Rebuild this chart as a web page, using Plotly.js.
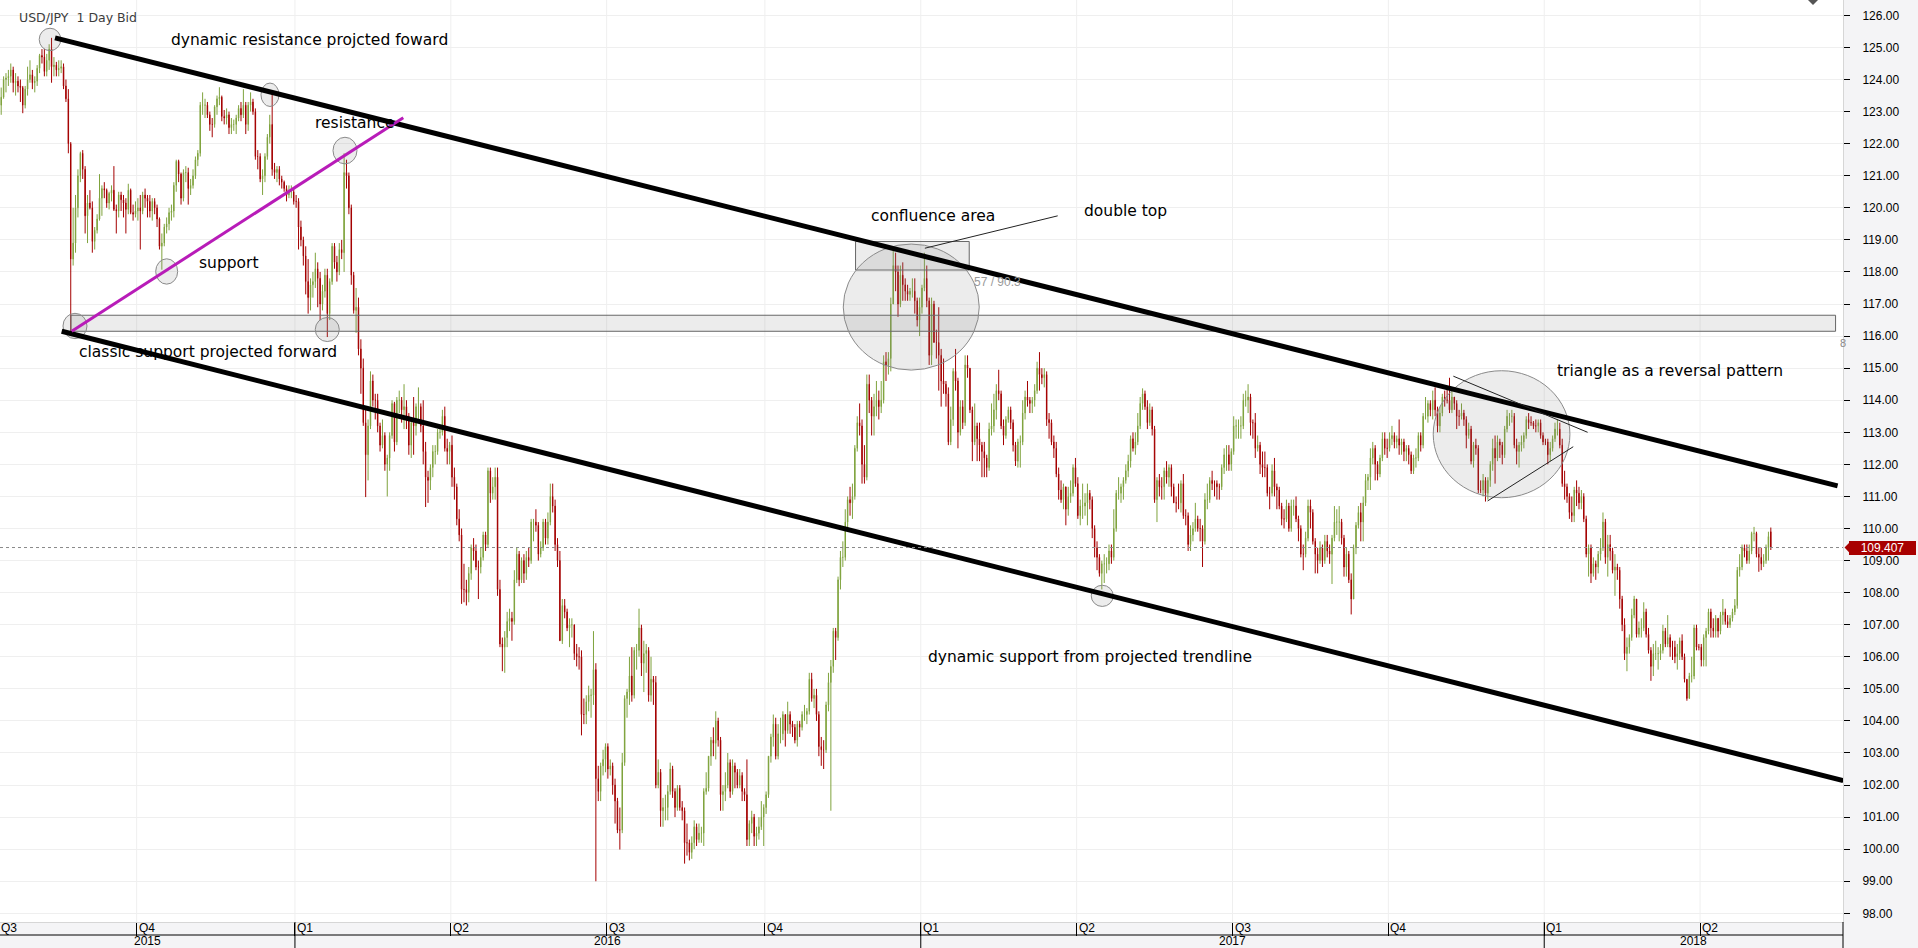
<!DOCTYPE html>
<html><head><meta charset="utf-8">
<script src="https://cdn.plot.ly/plotly-3.0.1.min.js"></script>
<style>html,body{margin:0;padding:0;background:#f4f4f6;overflow:hidden}#chart{width:1918px;height:948px}</style>
</head><body><div id="chart"></div>
<script>
// ---- USD/JPY daily bars [open, high, low, close], one array per month ----
const usdjpy_2015_07 = [[123.20,123.75,122.90,123.45],[123.45,124.10,123.40,124.00],[124.00,124.20,123.60,124.05],[124.05,124.30,123.80,124.10],[124.10,124.50,123.90,124.30],[124.30,124.40,123.60,123.90],[123.90,124.20,123.50,123.95],[123.95,124.10,123.60,123.80],[123.80,124.00,123.30,123.75],[123.75,123.80,122.95,123.20],[123.20,123.80,123.10,123.70],[123.70,124.40,123.50,124.00],[124.00,124.60,123.90,124.15],[124.15,124.30,123.70,123.90]];
const usdjpy_2015_08 = [[123.90,124.10,123.60,123.95],[123.95,124.45,123.80,124.35],[124.35,124.80,124.20,124.75],[124.75,124.95,124.50,124.70],[124.70,124.95,124.10,124.25],[124.25,124.80,124.10,124.60],[124.60,125.10,124.30,124.95],[124.95,125.30,123.90,124.40],[124.40,124.70,124.10,124.45],[124.45,124.55,124.10,124.30],[124.30,124.60,124.10,124.35],[124.35,124.60,124.20,124.40],[124.40,124.50,123.70,123.80],[123.80,124.00,123.30,123.40],[123.40,123.70,121.70,122.00],[122.00,122.05,116.15,118.40],[118.40,120.00,118.20,118.90],[118.90,120.40,118.60,120.00],[120.00,121.20,119.70,121.00],[121.00,121.75,120.80,121.70],[121.70,121.80,120.90,121.20]];
const usdjpy_2015_09 = [[121.20,121.30,119.20,119.75],[119.75,120.40,118.90,120.15],[120.15,120.55,119.95,120.00],[120.00,120.20,118.60,118.95],[118.95,119.40,118.70,119.30],[119.30,119.80,119.20,119.65],[119.65,121.05,119.60,120.30],[120.30,120.70,119.75,120.60],[120.60,120.80,120.30,120.55],[120.55,120.60,120.00,120.15],[120.15,120.50,119.95,120.45],[120.45,120.70,120.20,120.55],[120.55,121.30,119.90,119.95],[119.95,120.10,119.20,119.90],[119.90,120.50,119.70,120.40],[120.40,120.50,119.90,120.25],[120.25,120.40,119.70,120.15],[120.15,120.30,119.20,119.95],[119.95,120.75,119.80,120.55],[120.55,120.60,119.80,119.85],[119.85,120.10,119.60,119.80],[119.80,120.20,119.70,119.90]];
const usdjpy_2015_10 = [[119.90,120.30,119.60,120.00],[120.00,120.40,118.70,119.90],[119.90,120.50,119.80,120.40],[120.40,120.60,120.00,120.30],[120.30,120.40,119.70,120.20],[120.20,120.40,119.70,119.90],[119.90,120.30,119.60,120.20],[120.20,120.30,119.80,120.00],[120.00,120.10,119.40,119.65],[119.65,119.70,118.70,118.80],[118.80,119.20,118.07,118.90],[118.90,119.50,118.80,119.40],[119.40,119.70,119.20,119.50],[119.50,120.00,119.30,119.85],[119.85,120.10,119.60,119.90],[119.90,120.80,119.70,120.70],[120.70,121.50,120.50,121.45],[121.45,121.50,120.80,121.05],[121.05,121.10,120.10,120.30],[120.30,121.20,120.20,121.10],[121.10,121.30,120.80,121.10],[121.10,121.25,120.10,120.60]];
const usdjpy_2015_11 = [[120.60,120.90,120.40,120.70],[120.70,121.20,120.60,121.00],[121.00,121.60,120.90,121.50],[121.50,121.80,121.30,121.70],[121.70,123.30,121.60,123.20],[123.20,123.60,122.90,123.20],[123.20,123.40,122.80,123.20],[123.20,123.30,122.80,122.90],[122.90,123.00,122.40,122.60],[122.60,122.80,122.20,122.60],[122.60,123.20,122.50,123.15],[123.15,123.50,122.90,123.40],[123.40,123.76,123.20,123.45],[123.45,123.50,122.70,122.85],[122.85,123.05,122.60,122.80],[122.80,123.10,122.60,122.90],[122.90,123.00,122.30,122.50],[122.50,122.80,122.30,122.60],[122.60,122.75,122.40,122.60],[122.60,122.90,122.30,122.80],[122.80,123.20,122.70,123.10]];
const usdjpy_2015_12 = [[123.10,123.30,122.70,122.90],[122.90,123.70,122.80,123.20],[123.20,123.30,122.30,122.60],[122.60,123.30,122.40,123.20],[123.20,123.60,123.00,123.30],[123.30,123.40,122.90,123.00],[123.00,123.10,121.50,121.60],[121.60,121.80,121.20,121.60],[121.60,121.70,120.80,120.90],[120.90,121.20,120.40,121.00],[121.00,121.70,120.80,121.60],[121.60,122.30,121.50,122.20],[122.20,122.90,122.00,122.60],[122.60,123.60,121.00,121.20],[121.20,121.40,120.90,121.10],[121.10,121.30,120.80,121.20],[121.20,121.30,120.70,120.90],[120.90,121.00,120.60,120.80],[120.80,120.85,120.50,120.60],[120.60,120.70,120.20,120.40],[120.40,120.70,120.30,120.50],[120.50,120.70,120.30,120.50],[120.50,120.60,120.10,120.20]];
const usdjpy_2016_01 = [[120.20,120.40,120.00,120.20],[120.20,120.30,118.70,119.40],[119.40,119.60,118.80,119.00],[119.00,119.10,118.20,118.50],[118.50,118.80,117.30,117.70],[117.70,118.40,116.70,117.20],[117.20,117.80,116.80,117.60],[117.60,118.00,117.20,117.70],[117.70,118.60,117.50,118.10],[118.10,118.30,116.90,117.80],[117.80,118.00,116.50,117.00],[117.00,117.60,116.80,117.40],[117.40,118.10,117.20,117.90],[117.90,118.10,115.97,116.70],[116.70,117.80,116.50,117.70],[117.70,118.90,117.60,118.80],[118.80,118.90,118.10,118.30],[118.30,118.50,117.70,118.00],[118.00,118.90,117.90,118.70],[118.70,119.00,118.40,118.60],[118.60,121.70,118.00,121.10]];
const usdjpy_2016_02 = [[121.10,121.50,120.60,121.00],[121.00,121.10,119.80,120.00],[120.00,120.10,117.60,117.90],[117.90,118.00,116.70,116.80],[116.80,117.50,116.10,116.90],[116.90,117.20,115.40,115.60],[115.60,115.90,114.20,115.00],[115.00,115.30,113.20,113.30],[113.30,113.80,110.98,112.30],[112.30,113.40,111.50,113.20],[113.20,114.90,113.10,114.60],[114.60,114.80,113.80,114.00],[114.00,114.20,113.40,114.00],[114.00,114.20,113.00,113.20],[113.20,113.30,112.40,112.60],[112.60,113.40,112.50,112.90],[112.90,113.00,111.80,112.00],[112.00,112.30,111.00,112.20],[112.20,113.00,111.80,112.90],[112.90,114.00,112.80,113.90],[113.90,113.95,112.40,112.70]];
const usdjpy_2016_03 = [[112.70,114.10,112.60,114.00],[114.00,114.30,113.60,114.00],[114.00,114.10,113.30,113.70],[113.70,114.50,113.10,113.80],[113.80,114.00,113.10,113.50],[113.50,113.60,112.30,112.60],[112.60,113.40,112.20,113.30],[113.30,114.10,112.30,113.20],[113.20,113.90,112.90,113.80],[113.80,114.40,113.40,113.80],[113.80,113.90,113.00,113.20],[113.20,114.00,112.00,112.40],[112.40,112.70,110.67,111.60],[111.60,111.80,110.80,111.50],[111.50,112.00,111.20,111.90],[111.90,112.60,111.60,112.40],[112.40,112.60,112.00,112.40],[112.40,113.10,112.30,113.00],[113.00,113.20,112.80,113.00],[113.00,113.70,112.90,113.50],[113.50,113.80,112.40,112.50],[112.50,112.80,112.00,112.40],[112.40,112.70,112.00,112.60]];
const usdjpy_2016_04 = [[112.60,112.90,111.30,111.60],[111.60,111.90,110.90,111.30],[111.30,111.40,110.10,110.30],[110.30,110.60,109.60,109.80],[109.80,110.00,107.65,108.10],[108.10,108.90,107.70,108.10],[108.10,108.40,107.60,108.00],[108.00,108.80,107.70,108.60],[108.60,109.50,108.40,109.40],[109.40,109.70,109.00,109.30],[109.30,109.50,108.70,108.80],[108.80,109.00,107.80,108.80],[108.80,109.40,108.60,109.10],[109.10,109.90,109.00,109.80],[109.80,109.90,109.30,109.50],[109.50,111.90,109.40,111.80],[111.80,111.90,110.80,111.10],[111.10,111.60,110.90,111.30],[111.30,111.90,110.90,111.60],[111.60,111.90,107.90,108.10],[108.10,108.40,106.30,106.40]];
const usdjpy_2016_05 = [[106.40,106.60,105.55,106.30],[106.30,106.80,105.50,106.60],[106.60,107.40,106.30,107.10],[107.10,107.50,106.80,107.20],[107.20,107.40,106.50,107.10],[107.10,108.70,107.00,108.40],[108.40,109.40,108.30,109.20],[109.20,109.30,108.20,108.40],[108.40,109.10,108.30,109.00],[109.00,109.20,108.30,108.60],[108.60,109.30,108.40,109.10],[109.10,109.40,108.80,109.00],[109.00,110.30,108.90,110.20],[110.20,110.30,109.60,110.20],[110.20,110.60,109.90,110.10],[110.10,110.20,109.00,109.20],[109.20,109.60,109.10,109.40],[109.40,110.30,109.30,110.20],[110.20,110.30,109.50,109.70],[109.70,110.50,109.50,110.20],[110.20,111.40,110.10,111.00],[111.00,111.40,110.50,110.70]];
const usdjpy_2016_06 = [[110.70,110.90,109.30,109.50],[109.50,109.70,108.80,109.00],[109.00,109.30,106.50,106.50],[106.50,107.80,106.40,107.60],[107.60,107.80,107.20,107.40],[107.40,107.50,106.80,106.90],[106.90,107.20,106.30,107.00],[107.00,107.20,106.60,107.00],[107.00,107.00,105.90,106.10],[106.10,106.40,105.70,106.00],[106.00,106.30,105.60,106.00],[106.00,106.20,103.55,104.20],[104.20,104.70,103.90,104.20],[104.20,104.80,103.90,104.60],[104.60,105.10,104.30,104.80],[104.80,105.00,104.10,104.80],[104.80,106.80,104.50,105.60],[105.60,105.80,99.00,102.20],[102.20,102.60,101.50,101.80],[101.80,102.70,101.50,102.60],[102.60,103.10,102.30,102.80],[102.80,103.30,102.40,103.20]];
const usdjpy_2016_07 = [[103.20,103.30,102.20,102.50],[102.50,102.80,102.30,102.60],[102.60,102.70,101.70,102.00],[102.00,102.20,100.80,101.50],[101.50,101.60,100.50,100.60],[100.60,101.30,99.99,100.60],[100.60,103.00,100.50,102.70],[102.70,104.80,102.60,104.70],[104.70,105.00,104.10,104.90],[104.90,106.00,104.50,105.40],[105.40,106.30,104.60,104.80],[104.80,106.30,104.70,106.20],[106.20,106.40,105.60,106.20],[106.20,107.50,106.00,106.90],[106.90,107.00,105.40,105.80],[105.80,106.50,104.90,106.10],[106.10,106.40,105.50,106.20],[106.20,106.30,104.60,104.80],[104.80,106.00,104.60,105.30],[105.30,105.40,104.50,105.20],[105.20,105.40,101.90,102.00]];
const usdjpy_2016_08 = [[102.00,102.80,101.90,102.40],[102.40,102.50,100.70,101.20],[101.20,101.60,100.70,101.30],[101.30,101.70,100.90,101.30],[101.30,102.00,100.90,101.80],[101.80,102.70,101.70,102.50],[102.50,102.60,101.60,101.80],[101.80,101.90,101.00,101.30],[101.30,102.00,101.20,101.90],[101.90,102.00,101.20,101.30],[101.30,101.50,100.90,101.20],[101.20,101.30,99.55,100.20],[100.20,100.80,99.80,100.20],[100.20,100.30,99.65,99.90],[99.90,100.40,99.70,100.20],[100.20,100.90,100.00,100.70],[100.70,100.80,100.10,100.30],[100.30,100.80,100.20,100.50],[100.50,100.70,100.20,100.50],[100.50,101.90,100.10,101.80],[101.80,102.40,101.70,101.90],[101.90,102.90,101.80,102.90],[102.90,103.50,102.60,103.40]];
const usdjpy_2016_09 = [[103.40,103.80,102.90,103.30],[103.30,104.30,102.80,104.00],[104.00,104.10,103.20,103.40],[103.40,103.50,101.20,101.70],[101.70,102.00,101.20,101.80],[101.80,102.40,101.50,102.00],[102.00,103.00,101.90,102.70],[102.70,102.80,101.60,101.80],[101.80,102.80,101.70,102.60],[102.60,102.70,101.90,102.40],[102.40,102.50,101.90,102.00],[102.00,102.50,101.90,102.30],[102.30,102.40,101.50,101.80],[101.80,101.90,101.50,101.70],[101.70,102.80,100.10,100.30],[100.30,100.90,100.10,100.80],[100.80,101.20,100.50,101.00],[101.00,101.10,100.10,100.40],[100.40,100.70,100.10,100.50],[100.50,101.00,100.30,100.70],[100.70,101.50,100.60,101.00],[101.00,101.40,100.10,101.30]];
const usdjpy_2016_10 = [[101.30,101.80,101.10,101.70],[101.70,102.90,101.60,102.90],[102.90,103.60,102.70,103.50],[103.50,104.20,103.20,103.90],[103.90,104.10,102.80,102.90],[102.90,103.90,102.80,103.60],[103.60,104.10,103.30,103.60],[103.60,104.30,103.40,104.20],[104.20,104.20,103.20,103.70],[103.70,104.60,103.60,104.20],[104.20,104.30,103.60,103.90],[103.90,104.00,103.50,103.80],[103.80,103.90,103.30,103.40],[103.40,104.00,103.20,103.90],[103.90,104.00,103.50,103.80],[103.80,104.30,103.70,104.20],[104.20,104.50,104.00,104.20],[104.20,104.40,103.90,104.30],[104.30,105.50,104.20,105.30],[105.30,105.50,104.60,104.70],[104.70,105.00,104.40,104.80]];
const usdjpy_2016_11 = [[104.80,105.00,104.00,104.20],[104.20,104.30,102.90,103.20],[103.20,103.50,102.60,103.10],[103.10,103.40,102.50,103.10],[103.10,104.60,103.00,104.50],[104.50,105.50,104.30,105.20],[105.20,105.90,101.20,105.70],[105.70,106.90,105.50,106.80],[106.80,106.90,105.90,106.60],[106.60,108.50,106.50,108.40],[108.40,109.30,108.10,109.10],[109.10,109.60,108.80,109.10],[109.10,110.60,109.00,110.20],[110.20,111.00,110.00,110.90],[110.90,111.30,110.40,110.80],[110.80,111.40,110.30,111.00],[111.00,112.60,110.90,112.50],[112.50,113.50,112.40,113.30],[113.30,113.90,112.90,113.20],[113.20,113.40,111.40,112.00],[112.00,112.60,111.40,111.60],[111.60,114.80,111.50,114.50]];
const usdjpy_2016_12 = [[114.50,114.80,113.60,114.00],[114.00,114.10,112.90,113.50],[113.50,114.20,112.90,113.80],[113.80,114.60,113.50,114.00],[114.00,114.30,113.40,113.80],[113.80,114.60,113.60,114.00],[114.00,115.40,113.90,115.20],[115.20,115.50,114.60,115.10],[115.10,115.50,114.80,115.30],[115.30,117.20,114.90,117.00],[117.00,118.66,117.00,118.20],[118.20,118.60,117.40,118.00],[118.00,118.20,116.60,117.00],[117.00,118.20,116.90,117.90],[117.90,118.30,117.10,117.60],[117.60,117.80,117.10,117.40],[117.40,117.60,117.10,117.30],[117.30,117.50,117.10,117.40],[117.40,117.80,117.20,117.40],[117.40,117.80,116.70,117.10],[117.10,117.20,116.30,116.50],[116.50,117.20,116.00,116.90]];
const usdjpy_2017_01 = [[116.90,117.60,116.70,117.50],[117.50,118.60,117.40,117.80],[117.80,118.20,116.90,117.10],[117.10,117.20,115.10,115.40],[115.40,117.20,115.10,117.00],[117.00,117.10,115.80,115.80],[115.80,116.20,115.30,115.80],[115.80,116.90,114.30,115.40],[115.40,115.60,113.80,114.60],[114.60,115.30,114.20,114.50],[114.50,114.60,113.80,114.20],[114.20,114.40,112.60,112.70],[112.70,113.80,112.60,113.40],[113.40,115.00,113.20,114.90],[114.90,115.60,114.30,114.60],[114.60,114.70,112.50,113.00],[113.00,114.00,112.90,113.80],[113.80,114.00,113.10,113.30],[113.30,115.40,113.20,115.10],[115.10,115.40,114.70,115.00],[115.00,115.00,113.60,113.70],[113.70,113.80,112.10,112.70]];
const usdjpy_2017_02 = [[112.70,113.90,112.60,113.20],[113.20,113.30,112.10,112.80],[112.80,113.30,112.10,112.60],[112.60,112.70,111.60,112.40],[112.40,112.70,111.60,112.20],[112.20,112.30,111.60,111.90],[111.90,113.30,111.80,113.10],[113.10,113.90,112.90,113.20],[113.20,114.20,113.00,113.70],[113.70,114.50,113.40,114.30],[114.30,114.95,114.00,114.20],[114.20,114.30,113.10,113.20],[113.20,113.40,112.60,112.90],[112.90,113.50,112.80,113.40],[113.40,113.80,113.30,113.70],[113.70,113.80,113.10,113.30],[113.30,113.40,112.40,112.60],[112.60,112.70,111.95,112.10],[112.10,112.80,111.90,112.70],[112.70,112.90,111.90,112.70]];
const usdjpy_2017_03 = [[112.70,114.00,112.60,113.60],[113.60,114.30,113.40,114.10],[114.10,114.60,113.80,114.00],[114.00,114.10,113.60,113.90],[113.90,114.10,113.60,114.00],[114.00,114.50,113.80,114.30],[114.30,115.20,114.20,115.00],[115.00,115.50,114.30,114.80],[114.80,115.00,114.50,114.70],[114.70,115.00,114.40,114.80],[114.80,114.90,113.20,113.40],[113.40,113.60,112.80,113.30],[113.30,113.40,112.60,112.70],[112.70,112.90,112.20,112.50],[112.50,112.70,111.60,111.70],[111.70,111.90,110.90,111.20],[111.20,111.50,110.80,110.90],[110.90,111.40,110.60,111.30],[111.30,111.30,110.10,110.60],[110.60,111.30,110.40,111.00],[111.00,111.50,110.80,111.10],[111.10,112.00,111.00,111.90],[111.90,112.20,111.30,111.40]];
const usdjpy_2017_04 = [[111.40,111.60,110.30,110.40],[110.40,110.90,110.10,110.70],[110.70,111.40,110.30,110.70],[110.70,111.10,110.40,110.80],[110.80,111.40,110.10,111.10],[111.10,111.20,110.60,110.90],[110.90,111.00,109.70,110.00],[110.00,110.10,109.10,109.40],[109.40,109.60,108.70,109.10],[109.10,109.20,108.50,108.60],[108.60,109.00,108.10,108.90],[108.90,109.20,108.30,108.90],[108.90,109.10,108.60,108.90],[108.90,109.50,108.70,109.30],[109.30,109.50,108.90,109.10],[109.10,110.60,109.00,110.00],[110.00,111.20,109.90,111.10],[111.10,111.60,110.90,111.10],[111.10,111.40,110.80,111.30],[111.30,111.60,110.90,111.50]];
const usdjpy_2017_05 = [[111.50,112.00,111.40,111.80],[111.80,112.30,111.60,112.10],[112.10,112.90,111.90,112.80],[112.80,113.00,112.40,112.50],[112.50,113.00,112.30,112.70],[112.70,113.60,112.60,113.20],[113.20,114.10,113.10,113.90],[113.90,114.37,113.70,114.20],[114.20,114.30,113.70,113.80],[113.80,114.00,113.10,113.30],[113.30,113.90,113.20,113.70],[113.70,113.80,112.90,113.10],[113.10,113.20,110.80,110.90],[110.90,111.60,110.20,111.50],[111.50,111.70,111.00,111.30],[111.30,111.60,110.90,111.30],[111.30,111.90,110.90,111.80],[111.80,112.10,111.40,111.60],[111.60,112.00,111.30,111.90],[111.90,112.00,111.00,111.30],[111.30,111.40,110.80,110.80],[110.80,111.00,110.50,110.80],[110.80,111.40,110.60,110.80]];
const usdjpy_2017_06 = [[110.80,111.50,110.50,111.40],[111.40,111.70,110.30,110.40],[110.40,110.60,110.10,110.40],[110.40,110.50,109.30,109.50],[109.50,110.10,109.30,109.80],[109.80,110.20,109.60,110.00],[110.00,110.80,109.90,110.30],[110.30,110.40,109.90,110.00],[110.00,110.30,109.60,110.00],[110.00,110.10,108.80,109.60],[109.60,111.10,109.50,110.90],[110.90,111.40,110.60,110.90],[110.90,111.60,110.80,111.50],[111.50,111.80,111.20,111.40],[111.40,111.50,111.00,111.40],[111.40,111.50,110.90,111.30],[111.30,111.40,110.90,111.30],[111.30,112.00,111.20,111.90],[111.90,112.50,111.70,112.30],[112.30,112.60,111.80,112.30],[112.30,112.60,111.80,112.00],[112.00,112.50,111.80,112.40]];
const usdjpy_2017_07 = [[112.40,113.50,112.30,113.20],[113.20,113.40,112.80,113.20],[113.20,113.40,112.80,113.20],[113.20,113.50,112.80,113.20],[113.20,114.20,113.10,114.00],[114.00,114.30,113.80,114.00],[114.00,114.50,113.60,114.10],[114.10,114.20,112.90,113.30],[113.30,113.40,112.80,113.30],[113.30,113.60,112.20,112.50],[112.50,112.90,112.40,112.60],[112.60,112.70,111.70,112.00],[112.00,112.40,111.60,111.90],[111.90,112.40,111.60,111.90],[111.90,112.00,111.00,111.10],[111.10,111.30,110.60,111.10],[111.10,112.00,111.00,111.80],[111.80,112.20,111.00,111.30],[111.30,111.40,110.60,111.20],[111.20,111.30,110.60,110.70],[110.70,110.80,110.10,110.30]];
const usdjpy_2017_08 = [[110.30,110.60,110.00,110.30],[110.30,110.90,110.20,110.70],[110.70,110.80,109.90,110.00],[110.00,110.90,109.90,110.70],[110.70,110.90,110.40,110.70],[110.70,111.00,110.20,110.30],[110.30,110.40,109.60,110.00],[110.00,110.10,109.10,109.20],[109.20,109.50,108.70,109.20],[109.20,109.90,109.10,109.70],[109.70,110.90,109.60,110.70],[110.70,110.90,110.00,110.50],[110.50,110.60,109.50,109.60],[109.60,109.70,108.60,109.20],[109.20,109.40,108.60,109.00],[109.00,109.60,108.90,109.40],[109.40,109.50,108.80,109.00],[109.00,109.80,108.90,109.60],[109.60,109.80,109.10,109.30],[109.30,109.50,108.90,109.20],[109.20,109.80,108.27,109.70],[109.70,110.70,109.60,110.20],[110.20,110.60,109.80,110.20]];
const usdjpy_2017_09 = [[110.20,110.70,109.60,110.20],[110.20,110.30,109.50,109.70],[109.70,109.80,108.50,108.80],[108.80,109.40,108.50,109.20],[109.20,109.30,108.30,108.40],[108.40,108.60,107.32,107.80],[107.80,109.50,107.80,109.40],[109.40,110.20,109.20,110.10],[110.10,110.70,110.00,110.50],[110.50,110.80,109.60,110.20],[110.20,111.00,109.60,110.80],[110.80,111.70,110.70,111.50],[111.50,111.70,111.20,111.60],[111.60,112.50,111.20,112.20],[112.20,112.70,112.00,112.50],[112.50,112.60,111.50,112.00],[112.00,112.10,111.50,111.70],[111.70,112.30,111.60,112.20],[112.20,113.00,112.10,112.80],[112.80,113.00,112.30,112.50],[112.50,112.80,112.20,112.50]];
const usdjpy_2017_10 = [[112.50,113.00,112.40,112.80],[112.80,113.20,112.60,112.90],[112.90,113.00,112.50,112.70],[112.70,112.90,112.50,112.80],[112.80,113.40,112.30,112.60],[112.60,112.80,112.30,112.70],[112.70,112.80,112.10,112.40],[112.40,112.60,112.10,112.50],[112.50,112.60,112.00,112.30],[112.30,112.40,111.70,111.80],[111.80,112.30,111.70,112.20],[112.20,112.50,111.90,112.20],[112.20,113.00,112.10,112.90],[112.90,113.00,112.40,112.60],[112.60,113.60,112.50,113.50],[113.50,114.10,113.40,113.50],[113.50,114.00,113.30,113.90],[113.90,114.00,113.50,113.70],[113.70,114.30,113.40,114.00],[114.00,114.40,113.50,113.70],[113.70,113.80,113.00,113.20],[113.20,113.80,113.00,113.60]];
const usdjpy_2017_11 = [[113.60,114.20,113.50,114.10],[114.10,114.30,113.80,114.00],[114.00,114.40,113.90,114.00],[114.00,114.70,113.60,113.70],[113.70,114.30,113.60,114.10],[114.10,114.10,113.70,113.90],[113.90,114.00,113.10,113.50],[113.50,113.70,113.20,113.50],[113.50,113.90,113.40,113.60],[113.60,113.70,113.20,113.40],[113.40,113.50,112.50,112.90],[112.90,113.30,112.80,113.10],[113.10,113.20,112.00,112.10],[112.10,112.70,111.90,112.60],[112.60,112.80,112.30,112.50],[112.50,112.60,111.10,111.20],[111.20,111.50,111.10,111.20],[111.20,111.70,111.00,111.50],[111.50,111.60,110.84,111.10],[111.10,111.60,110.90,111.50],[111.50,112.10,111.30,112.00],[112.00,112.80,111.80,112.50]];
const usdjpy_2017_12 = [[112.50,112.90,111.40,112.20],[112.20,112.90,112.10,112.70],[112.70,112.80,112.20,112.60],[112.60,112.70,112.00,112.30],[112.30,113.20,112.20,113.10],[113.10,113.70,113.00,113.50],[113.50,113.60,113.20,113.50],[113.50,113.70,113.30,113.50],[113.50,113.60,112.50,112.60],[112.60,112.80,112.00,112.40],[112.40,112.70,111.90,112.60],[112.60,112.90,112.40,112.70],[112.70,113.00,112.50,112.90],[112.90,113.50,112.80,113.40],[113.40,113.60,113.10,113.30],[113.30,113.50,113.20,113.30],[113.30,113.35,113.10,113.20],[113.20,113.40,113.00,113.20],[113.20,113.40,113.00,113.30],[113.30,113.40,112.80,112.90],[112.90,113.00,112.60,112.70]];
const usdjpy_2018_01 = [[112.70,112.80,112.60,112.70],[112.70,112.80,112.00,112.30],[112.30,112.70,112.10,112.50],[112.50,112.90,112.40,112.80],[112.80,113.30,112.70,113.10],[113.10,113.40,112.90,113.10],[113.10,113.30,112.50,112.60],[112.60,112.80,111.30,111.40],[111.40,111.80,110.90,111.30],[111.30,111.40,110.80,111.00],[111.00,111.10,110.30,110.50],[110.50,111.00,110.20,110.40],[110.40,111.30,110.20,111.20],[111.20,111.50,110.70,111.10],[111.10,111.30,110.60,110.80],[110.80,111.20,110.60,111.00],[111.00,111.10,110.20,110.30],[110.30,110.40,109.10,109.20],[109.20,109.50,108.50,109.40],[109.40,109.50,108.30,108.60],[108.60,109.10,108.50,108.90],[108.90,109.00,108.40,108.80],[108.80,109.30,108.60,109.20]];
const usdjpy_2018_02 = [[109.20,109.70,109.00,109.40],[109.40,110.50,109.30,110.20],[110.20,110.30,108.90,109.10],[109.10,109.80,108.50,109.50],[109.50,109.80,109.00,109.30],[109.30,109.40,108.60,108.70],[108.70,109.20,107.90,108.80],[108.80,108.90,108.40,108.70],[108.70,108.80,107.50,107.80],[107.80,107.90,106.80,107.00],[107.00,107.20,105.90,106.10],[106.10,106.60,105.55,106.30],[106.30,106.70,106.10,106.60],[106.60,107.50,106.50,107.30],[107.30,107.90,107.20,107.80],[107.80,107.80,106.60,106.70],[106.70,107.10,106.60,106.90],[106.90,107.20,106.60,106.90],[106.90,107.70,106.80,107.40],[107.40,107.50,106.60,106.70]];
const usdjpy_2018_03 = [[106.70,106.90,106.10,106.20],[106.20,106.30,105.25,105.70],[105.70,106.40,105.40,106.10],[106.10,106.50,105.90,106.10],[106.10,106.30,105.60,106.10],[106.10,106.40,105.90,106.20],[106.20,107.00,106.10,106.80],[106.80,106.90,106.30,106.40],[106.40,107.30,106.30,106.60],[106.60,106.70,106.00,106.30],[106.30,106.50,105.90,106.30],[106.30,106.50,105.80,106.00],[106.00,106.40,105.60,106.10],[106.10,106.60,105.90,106.50],[106.50,106.70,105.90,106.00],[106.00,106.10,105.20,105.30],[105.30,105.30,104.63,104.70],[104.70,105.50,104.70,105.40],[105.40,106.00,105.20,105.40],[105.40,107.00,105.30,106.90],[106.90,107.00,106.20,106.30],[106.30,106.40,106.20,106.30]];
const usdjpy_2018_04 = [[106.30,106.40,105.70,105.90],[105.90,106.70,105.70,106.60],[106.60,106.90,105.70,106.80],[106.80,107.50,106.70,107.40],[107.40,107.50,106.60,106.90],[106.90,107.20,106.60,106.80],[106.80,107.30,106.60,107.20],[107.20,107.20,106.60,106.80],[106.80,107.40,106.70,107.30],[107.30,107.80,107.00,107.40],[107.40,107.50,107.00,107.10],[107.10,107.30,106.90,107.00],[107.00,107.30,106.90,107.20],[107.20,107.50,107.10,107.40],[107.40,107.80,107.30,107.60],[107.60,108.80,107.50,108.70],[108.70,109.20,108.50,108.80],[108.80,109.50,108.70,109.40],[109.40,109.50,109.10,109.30],[109.30,109.50,108.90,109.00],[109.00,109.50,108.90,109.30]];
const usdjpy_2018_05 = [[109.30,109.90,109.20,109.85],[109.85,110.05,109.60,109.85],[109.85,109.90,109.10,109.20],[109.20,109.40,108.65,109.10],[109.10,109.40,108.70,108.90],[108.90,109.20,108.80,109.00],[109.00,109.50,108.90,109.40],[109.40,109.90,109.00,109.75],[109.90,110.03,109.33,109.407]];

// first trading day of each month block
const months = [
  ['2015-07-14', usdjpy_2015_07], ['2015-08-01', usdjpy_2015_08], ['2015-09-01', usdjpy_2015_09],
  ['2015-10-01', usdjpy_2015_10], ['2015-11-01', usdjpy_2015_11], ['2015-12-01', usdjpy_2015_12],
  ['2016-01-01', usdjpy_2016_01], ['2016-02-01', usdjpy_2016_02], ['2016-03-01', usdjpy_2016_03],
  ['2016-04-01', usdjpy_2016_04], ['2016-05-01', usdjpy_2016_05], ['2016-06-01', usdjpy_2016_06],
  ['2016-07-01', usdjpy_2016_07], ['2016-08-01', usdjpy_2016_08], ['2016-09-01', usdjpy_2016_09],
  ['2016-10-01', usdjpy_2016_10], ['2016-11-01', usdjpy_2016_11], ['2016-12-01', usdjpy_2016_12],
  ['2017-01-01', usdjpy_2017_01], ['2017-02-01', usdjpy_2017_02], ['2017-03-01', usdjpy_2017_03],
  ['2017-04-01', usdjpy_2017_04], ['2017-05-01', usdjpy_2017_05], ['2017-06-01', usdjpy_2017_06],
  ['2017-07-01', usdjpy_2017_07], ['2017-08-01', usdjpy_2017_08], ['2017-09-01', usdjpy_2017_09],
  ['2017-10-01', usdjpy_2017_10], ['2017-11-01', usdjpy_2017_11], ['2017-12-01', usdjpy_2017_12],
  ['2018-01-01', usdjpy_2018_01], ['2018-02-01', usdjpy_2018_02], ['2018-03-01', usdjpy_2018_03],
  ['2018-04-01', usdjpy_2018_04], ['2018-05-01', usdjpy_2018_05]
];
const lastPrice = 109.407;
const chartTitle = 'USD/JPY\u00a0 1 Day Bid';

// x axis labels
const quarterStarts = ['2015-10-01','2016-01-01','2016-04-01','2016-07-01','2016-10-03','2017-01-02','2017-04-03','2017-07-03','2017-10-02','2018-01-01','2018-04-02'];
const quarterNames  = ['Q4','Q1','Q2','Q3','Q4','Q1','Q2','Q3','Q4','Q1','Q2'];
const firstQuarterName = 'Q3';
const yearStarts = ['2016-01-01','2017-01-02','2018-01-01'];
const yearNames  = ['2015','2016','2017','2018'];

// analyst drawings: points as [trading-day offset from 2015-07-14, price]
const resistanceLine = [[22.94,125.30],[766.35,111.33]];
const supportLine    = [[25.73,116.15],[768.68,102.14]];
const risingLine     = [[29.90,116.15],[168.18,122.81]];
const supportBand    = [[29.6,116.15],[765.5,116.65]];
const confluenceBox  = [[356.8,118.06],[404.2,118.95]];
const pointerLine    = [[385.7,118.74],[441.1,119.75]];
const triangleTop    = [[606.1,114.75],[662.1,113.00]];
const triangleBottom = [[620.4,110.86],[656.1,112.55]];
const circles = [ // [x0, x1, y0, y1]
  [16.35,25.35,124.90,125.60],[108.84,116.35,123.16,123.89],[138.87,148.87,121.37,122.20],
  [64.93,74.10,117.62,118.41],[26.27,36.28,115.92,116.71],[131.48,141.49,115.83,116.58],
  [351.67,408.38,114.94,118.87],[455.09,464.27,107.57,108.23],[597.71,654.71,110.96,114.92]
];
const notes = [
  ['dynamic resistance projcted foward', 71.3, 125.22],
  ['resistance', 131.4, 122.65],
  ['support', 83.0, 118.29],
  ['classic support projected forward', 32.9, 115.50],
  ['confluence area', 363.1, 119.74],
  ['double top', 452.2, 119.90],
  ['dynamic support from projected trendline', 387.2, 106.00],
  ['triangle as a reversal pattern', 649.2, 114.90]
];
const faintNote = ['57 / 90.3', 406.2, 117.69];

// ---------- helpers ----------
const DAY = 86400000;
function parseDay(s){ const a = s.split('-').map(Number); return Date.UTC(a[0], a[1]-1, a[2]); }
function fmt(t){ const d = new Date(t); const p = n => String(n).padStart(2,'0');
  return d.getUTCFullYear()+'-'+p(d.getUTCMonth()+1)+'-'+p(d.getUTCDate())+' '+p(d.getUTCHours())+':'+p(d.getUTCMinutes()); }
function isWeekend(t){ const w = new Date(t).getUTCDay(); return w === 0 || w === 6; }

const X=[], O=[], H=[], L=[], C=[];
months.forEach(([start, bars]) => {
  let t = parseDay(start);
  bars.forEach(b => {
    while (isWeekend(t)) t += DAY;
    X.push(fmt(t + DAY/2)); O.push(b[0]); H.push(b[1]); L.push(b[2]); C.push(b[3]);
    t += DAY;
  });
});

const cal = []; { let t = parseDay('2015-07-14'); while (cal.length < 820) { if (!isWeekend(t)) cal.push(t); t += DAY; } }
function wd(i){ const n = Math.floor(i); return fmt(cal[n] + (i - n) * DAY); }
function idxOf(s){ const t = parseDay(s); return cal.indexOf(t); }
const RANGE_END = 768.6;

// ---------- shapes ----------
const shapes = [];
const PLOT_W = 1843, PLOT_H = 922;
// quarter grid lines (below the bars)
quarterStarts.forEach(d => shapes.push({type:'line', layer:'below', xref:'x', yref:'paper', x0:d, x1:d, y0:0, y1:1, line:{color:'#efefef', width:1}}));
const softFill = 'rgba(128,128,128,0.15)';
shapes.push({type:'rect', xref:'x', yref:'y', x0:wd(supportBand[0][0]), x1:wd(supportBand[1][0]), y0:supportBand[0][1], y1:supportBand[1][1], fillcolor:softFill, line:{color:'#666', width:1}});
shapes.push({type:'rect', xref:'x', yref:'y', x0:wd(confluenceBox[0][0]), x1:wd(confluenceBox[1][0]), y0:confluenceBox[0][1], y1:confluenceBox[1][1], fillcolor:softFill, line:{color:'#666', width:1}});
circles.forEach(cr => shapes.push({type:'circle', xref:'x', yref:'y', x0:wd(cr[0]), x1:wd(cr[1]), y0:cr[2], y1:cr[3], fillcolor:softFill, line:{color:'#8a8a8a', width:1}}));
function seg(pts, color, width){ return {type:'line', xref:'x', yref:'y', x0:wd(pts[0][0]), y0:pts[0][1], x1:wd(pts[1][0]), y1:pts[1][1], line:{color:color, width:width}}; }
shapes.push(seg(resistanceLine, '#000', 5));
shapes.push(seg(supportLine, '#000', 5));
shapes.push(seg(risingLine, '#b81cb8', 3));
shapes.push(seg(pointerLine, '#222', 1));
shapes.push(seg(triangleTop, '#222', 1));
shapes.push(seg(triangleBottom, '#222', 1));
// last price dashed line
shapes.push({type:'line', xref:'paper', yref:'y', x0:0, x1:1, y0:lastPrice, y1:lastPrice, line:{color:'#8a8a8a', width:1, dash:'3px,3px'}});
// last price label notch
shapes.push({type:'path', xref:'paper', yref:'y', path:'M '+(1849/PLOT_W)+','+(lastPrice+4.6/32.06)+' L '+(1844.5/PLOT_W)+','+lastPrice+' L '+(1849/PLOT_W)+','+(lastPrice-4.6/32.06)+' Z', fillcolor:'#a80000', line:{width:0}});
// bottom axis rows
shapes.push({type:'line', xref:'paper', yref:'paper', x0:0, x1:1, y0:-13/PLOT_H, y1:-13/PLOT_H, line:{color:'#000', width:1}});
shapes.push({type:'line', xref:'paper', yref:'paper', x0:1, x1:1, y0:0, y1:-26/PLOT_H, line:{color:'#000', width:1}});
yearStarts.forEach(d => shapes.push({type:'line', xref:'x', yref:'paper', x0:d, x1:d, y0:0, y1:-26/PLOT_H, line:{color:'#000', width:1}}));
// small scroll marker at top
shapes.push({type:'path', xref:'paper', yref:'paper', path:'M '+(1808/PLOT_W)+',1 L '+(1818/PLOT_W)+',1 L '+(1813/PLOT_W)+','+(1-5/PLOT_H)+' Z', fillcolor:'#555', line:{width:0}});

// ---------- annotations ----------
const annotations = [];
const axisFont = {family:'Liberation Sans, Arial, sans-serif', size:12, color:'#000'};
const noteFont = {family:'DejaVu Sans, sans-serif', size:15.5, color:'#000'};
notes.forEach(n => annotations.push({xref:'x', yref:'y', x:wd(n[1]), y:n[2], text:n[0], showarrow:false, xanchor:'left', yanchor:'middle', font:noteFont, borderwidth:0, borderpad:0}));
annotations.push({xref:'x', yref:'y', x:wd(faintNote[1]), y:faintNote[2], text:faintNote[0], showarrow:false, xanchor:'left', yanchor:'middle', font:{family:'Liberation Sans, Arial, sans-serif', size:12, color:'#9a9a9a'}, borderwidth:0, borderpad:0});
annotations.push({xref:'paper', yref:'paper', x:19/PLOT_W, y:1-17/PLOT_H, text:chartTitle, showarrow:false, xanchor:'left', yanchor:'middle', font:{family:'DejaVu Sans, sans-serif', size:12.5, color:'#3c3c3c'}, borderwidth:0, borderpad:0});
quarterStarts.forEach((d, k) => annotations.push({xref:'x', yref:'paper', x:d, y:0, text:quarterNames[k], showarrow:false, xanchor:'left', yanchor:'top', xshift:2, yshift:1, font:axisFont, borderwidth:0, borderpad:0}));
annotations.push({xref:'x', yref:'paper', x:wd(0.4), y:0, text:firstQuarterName, showarrow:false, xanchor:'left', yanchor:'top', xshift:0, yshift:1, font:axisFont, borderwidth:0, borderpad:0});
const bounds = [0].concat(yearStarts.map(idxOf)).concat([RANGE_END]);
yearNames.forEach((y, k) => annotations.push({xref:'x', yref:'paper', x:wd((bounds[k] + bounds[k+1]) / 2), y:0, text:y, showarrow:false, xanchor:'center', yanchor:'top', yshift:-12, font:axisFont, borderwidth:0, borderpad:0}));
annotations.push({xref:'paper', yref:'y', x:1, y:lastPrice, text:String(lastPrice), showarrow:false, xanchor:'left', yanchor:'middle', xshift:6, width:65, height:12, align:'center', bgcolor:'#a80000', bordercolor:'#a80000', borderwidth:1, borderpad:0, font:{family:'Liberation Sans, Arial, sans-serif', size:12, color:'#ffffff'}});
annotations.push({xref:'paper', yref:'y', x:1, y:115.79, text:'8', showarrow:false, xanchor:'right', xshift:3, yanchor:'middle', font:{family:'Liberation Sans, Arial, sans-serif', size:11, color:'#888'}, borderwidth:0, borderpad:0});

// ---------- trace & layout ----------
const trace = {
  type:'candlestick', x:X, open:O, high:H, low:L, close:C,
  increasing:{line:{color:'#7fa33d', width:1}, fillcolor:'#7fa33d'},
  decreasing:{line:{color:'#a40000', width:1}, fillcolor:'#a40000'},
  whiskerwidth:0, hoverinfo:'skip', showlegend:false
};
const layout = {
  width:1918, height:948,
  margin:{l:0, r:75, t:0, b:26, pad:0},
  paper_bgcolor:'#f4f4f6', plot_bgcolor:'#ffffff',
  showlegend:false, boxgap:0.7,
  font:axisFont,
  xaxis:{type:'date', range:[wd(0), wd(RANGE_END)], rangebreaks:[{bounds:['sat','mon']}],
    rangeslider:{visible:false}, tickmode:'array', tickvals:quarterStarts, showticklabels:false,
    ticks:'outside', ticklen:13, tickcolor:'#000', tickwidth:1,
    showgrid:false, showline:true, linecolor:'#d6d6d6', linewidth:1,
    zeroline:false, fixedrange:true, automargin:false},
  yaxis:{side:'right', range:[97.73, 126.48], tickmode:'linear', tick0:98, dtick:1, tickformat:'.2f',
    ticks:'outside', ticklen:6, tickcolor:'#000', tickwidth:1, ticklabelstandoff:10,
    showgrid:true, gridcolor:'#efefef', showline:true, linecolor:'#d6d6d6', linewidth:1,
    zeroline:false, fixedrange:true, automargin:false, tickfont:axisFont},
  shapes:shapes, annotations:annotations
};
Plotly.newPlot('chart', [trace], layout, {displayModeBar:false, staticPlot:true});
</script>
</body></html>
